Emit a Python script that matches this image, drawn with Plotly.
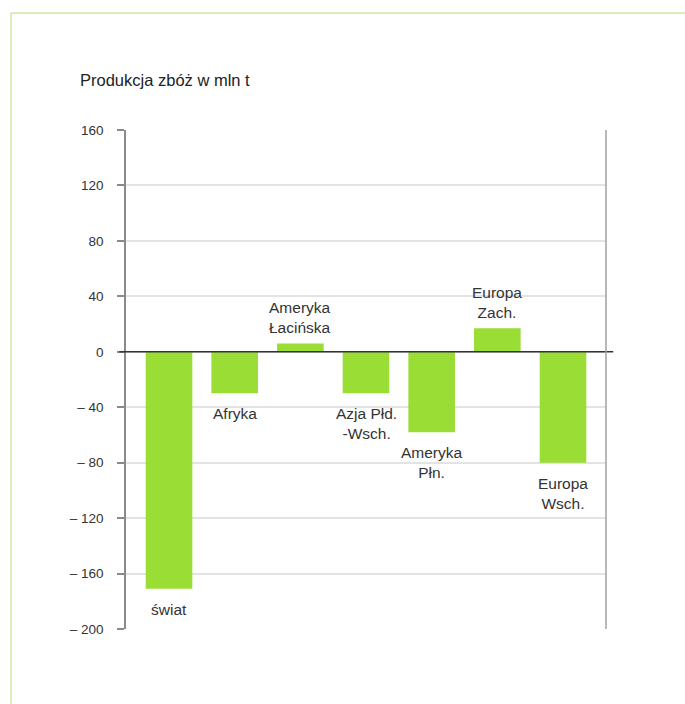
import plotly.graph_objects as go

categories = ["świat", "Afryka", "Ameryka<br>Łacińska", "Azja Płd.<br>-Wsch.",
              "Ameryka<br>Płn.", "Europa<br>Zach.", "Europa<br>Wsch."]
values = [-171, -30, 6, -30, -58, 17, -80]
tick_vals = [160, 120, 80, 40, 0, -40, -80, -120, -160, -200]
tick_text = ["160", "120", "80", "40", "0", "– 40", "– 80", "– 120", "– 160", "– 200"]
title_text = "Produkcja zbóż w mln t"

FONT = "Liberation Sans, Arial, Helvetica, sans-serif"
GREEN = "#9ADD35"
TXT = "#333333"

x = list(range(len(categories)))

fig = go.Figure()
fig.add_trace(go.Bar(x=x, y=values, marker=dict(color=GREEN, line=dict(width=0)),
                     width=0.71, hoverinfo="skip"))

annotations = []
for xi, v, c in zip(x, values, categories):
    if v >= 0:
        annotations.append(dict(x=xi, y=v, xref="x", yref="y", text=c, showarrow=False,
                                yanchor="bottom", yshift=5, font=dict(size=15.5, color=TXT, family=FONT)))
    else:
        annotations.append(dict(x=xi, y=v, xref="x", yref="y", text=c, showarrow=False,
                                yanchor="top", yshift=-10, font=dict(size=15.5, color=TXT, family=FONT)))

plot_w = 685 - 126 - 79
plot_h = 704 - 130 - 75
annotations.append(dict(x=(78 - 126) / plot_w, y=(704 - 75 - 80) / plot_h, xref="paper", yref="paper",
                        xanchor="left", yanchor="middle", text=title_text, showarrow=False,
                        font=dict(size=16.5, color="#222222", family=FONT)))

fig.update_layout(
    width=685, height=704,
    margin=dict(l=126, r=79, t=130, b=75),
    paper_bgcolor="white", plot_bgcolor="white",
    showlegend=False,
    font=dict(family=FONT, color=TXT),
    xaxis=dict(range=[-0.655, 6.655], showticklabels=False, showgrid=False,
               zeroline=False, showline=False, ticks=""),
    yaxis=dict(range=[-200, 160], tickvals=tick_vals, ticktext=tick_text,
               tickfont=dict(size=13.5, color=TXT, family=FONT),
               showgrid=True, gridcolor="#e3e3e3", gridwidth=1.5,
               zeroline=False, showline=True, linecolor="#8a8a8a", linewidth=1.5,
               ticks="outside", ticklen=7, tickcolor="#8a8a8a", tickwidth=1.5,
               ticklabelstandoff=11),
    annotations=annotations,
)

shapes = [
    # zero line extending beyond plot area
    dict(type="line", xref="paper", yref="y", x0=-0.014, x1=1.015, y0=0, y1=0,
         line=dict(color="#333333", width=1.5)),
    # right vertical line
    dict(type="line", xref="paper", yref="y", x0=1, x1=1, y0=-200, y1=160,
         line=dict(color="#a0a0a0", width=1.5)),
    # green frame (top and left)
    dict(type="line", xref="paper", yref="paper",
         x0=(11 - 126) / plot_w, x1=(685 - 126) / plot_w,
         y0=(704 - 75 - 13) / plot_h, y1=(704 - 75 - 13) / plot_h,
         line=dict(color="#c8e8a6", width=1.5)),
    dict(type="line", xref="paper", yref="paper",
         x0=(11 - 126) / plot_w, x1=(11 - 126) / plot_w,
         y0=(704 - 75 - 13) / plot_h, y1=(704 - 75 - 704) / plot_h,
         line=dict(color="#c8e8a6", width=1.5)),
]
fig.update_layout(shapes=shapes)

fig.write_html("out.html")
